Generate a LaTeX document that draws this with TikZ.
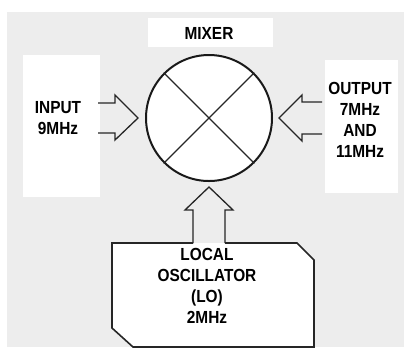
\documentclass[tikz,border=0pt]{standalone}
\usepackage{fontspec}
\setmainfont{Liberation Sans}[FakeStretch=0.88]
\begin{document}
\begin{tikzpicture}[x=1pt,y=-1pt,
  lbl/.style={font=\bfseries\fontsize{17.5}{20.8}\selectfont, align=center, inner sep=0pt},
  arr/.style={line width=1.3pt, line join=miter, draw=black!85},
  bgpatch/.style={fill=white, draw=none}]
\useasboundingbox (0,0) rectangle (409,349);
% background
\fill[white] (0,0) rectangle (409,349);
\fill[black!7] (7,12) rectangle (404,347);
\fill[white] (148,18) rectangle (273,47);
\fill[white] (23,55) rectangle (100,197);
\fill[white] (325,60) rectangle (398,193);
% mixer
\node[lbl] (mixlbl) at (209,33) {MIXER};
\node[circle, draw=black!90, line width=2pt, fill=white, minimum size=126pt, inner sep=0pt] (mix) at (209,118) {};
\draw[line width=1.2pt, black!85] (mix.45) -- (mix.225);
\draw[line width=1.2pt, black!85] (mix.135) -- (mix.315);
% input
\node[lbl] (inp) at (58,118) {INPUT\\9MHz};
\coordinate (intip) at (138,118);
\draw[arr] (98,103) -- (115,103) -- (115,95) -- (intip) -- (115,140) -- (115,133) -- (98,133);
% output
\node[lbl] (out) at (360,120) {OUTPUT\\7MHz\\AND\\11MHz};
\coordinate (outtip) at (279,118);
\draw[arr] (322,102) -- (302,102) -- (302,95) -- (outtip) -- (302,141) -- (302,134) -- (322,134);
% local oscillator
\coordinate (b1) at (112,243);
\coordinate (b2) at (297,243);
\coordinate (b3) at (314,260);
\coordinate (b4) at (314,347);
\coordinate (b5) at (133,347);
\coordinate (b6) at (112,328);
\fill[white] (b1) -- (b2) -- (b3) -- (b4) -- (b5) -- (b6) -- cycle;
\draw[line width=1.6pt, black!85, line join=miter] (193,243) -- (b1) -- (b6) -- (b5) -- (b4) -- (b3) -- (b2) -- (225,243);
\coordinate (lotip) at (209,187);
\draw[arr] (193,243) -- (193,210) -- (185,210) -- (lotip) -- (233,210) -- (225,210) -- (225,243);
\node[lbl] (lo) at (207,286) {LOCAL\\OSCILLATOR\\(LO)\\2MHz};
\end{tikzpicture}
\end{document}
